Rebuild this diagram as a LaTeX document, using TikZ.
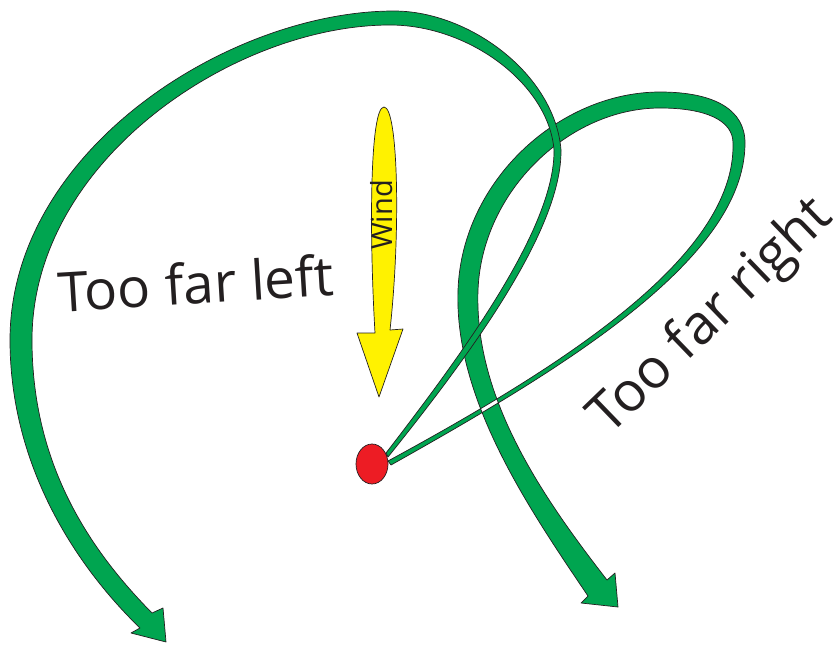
\documentclass[tikz,border=0pt]{standalone}
\usepackage{fontspec}
\usetikzlibrary{shapes.geometric}
\setmainfont{Open Sans}
\definecolor{rgreen}{RGB}{0,165,80}
\definecolor{wyellow}{RGB}{255,242,0}
\definecolor{dotred}{RGB}{237,28,36}
\definecolor{ink}{RGB}{35,31,32}
\begin{document}
\begin{tikzpicture}[x=1pt,y=-1pt,
  ribbon/.style={fill=rgreen, draw=ink, line width=0.7pt, line join=round},
  lbl/.style={inner sep=0pt, font=\fontsize{55}{60}\selectfont, text=ink}]
\useasboundingbox (0,0) rectangle (840,645);

% Too far right path (self-overlap rendered white by even-odd rule)
\filldraw[ribbon, even odd rule] (391,465)
  .. controls (560,370) and (745,260) .. (745,143)
  .. controls (745,110) and (715,92) .. (660,92)
  .. controls (560,92) and (462,180) .. (458,290)
  .. controls (454,400) and (530,510) .. (588,596)
  -- (581,603) -- (618,607) -- (615,573) -- (607,580)
  .. controls (545,500) and (474,400) .. (478,290)
  .. controls (482,190) and (570,108) .. (660,108)
  .. controls (705,108) and (733,120) .. (733,143)
  .. controls (736,258) and (557,369) .. (388,461)
  -- cycle;

% Too far left path
\filldraw[ribbon] (388,457)
  .. controls (470,355) and (562,230) .. (561,150)
  .. controls (555,75) and (470,11) .. (394,11)
  .. controls (230,11) and (10,150) .. (10,340)
  .. controls (10,470) and (80,570) .. (140,628)
  -- (131,633) -- (166,642) -- (163,608) -- (152,613)
  .. controls (95,555) and (32,470) .. (32,340)
  .. controls (32,160) and (235,25) .. (390,25)
  .. controls (470,25) and (549,85) .. (554,150)
  .. controls (555,228) and (463,353) .. (386,453)
  -- cycle;

% Wind arrow
\filldraw[fill=wyellow, draw=ink, line width=0.7pt, line join=round]
  (375,333) .. controls (369,230) and (370,107) .. (384,107)
  .. controls (398,107) and (401,230) .. (390,330)
  -- (403,329) -- (379,397) -- (357,333) -- cycle;
\node[inner sep=0pt, rotate=90, font=\fontsize{29}{32}\selectfont, text=ink] (wind) at (382,215) {Wind};

% ball
\node[ellipse, minimum width=32pt, minimum height=40pt, inner sep=0pt, fill=dotred, draw=ink, line width=0.7pt] (ball) at (372,464) {};

% labels
\node[lbl, anchor=base, rotate=3.5] (left) at (197,304) {Too far left};
\node[lbl, anchor=base, rotate=44] (right) at (722,328) {Too far right};
\end{tikzpicture}
\end{document}
